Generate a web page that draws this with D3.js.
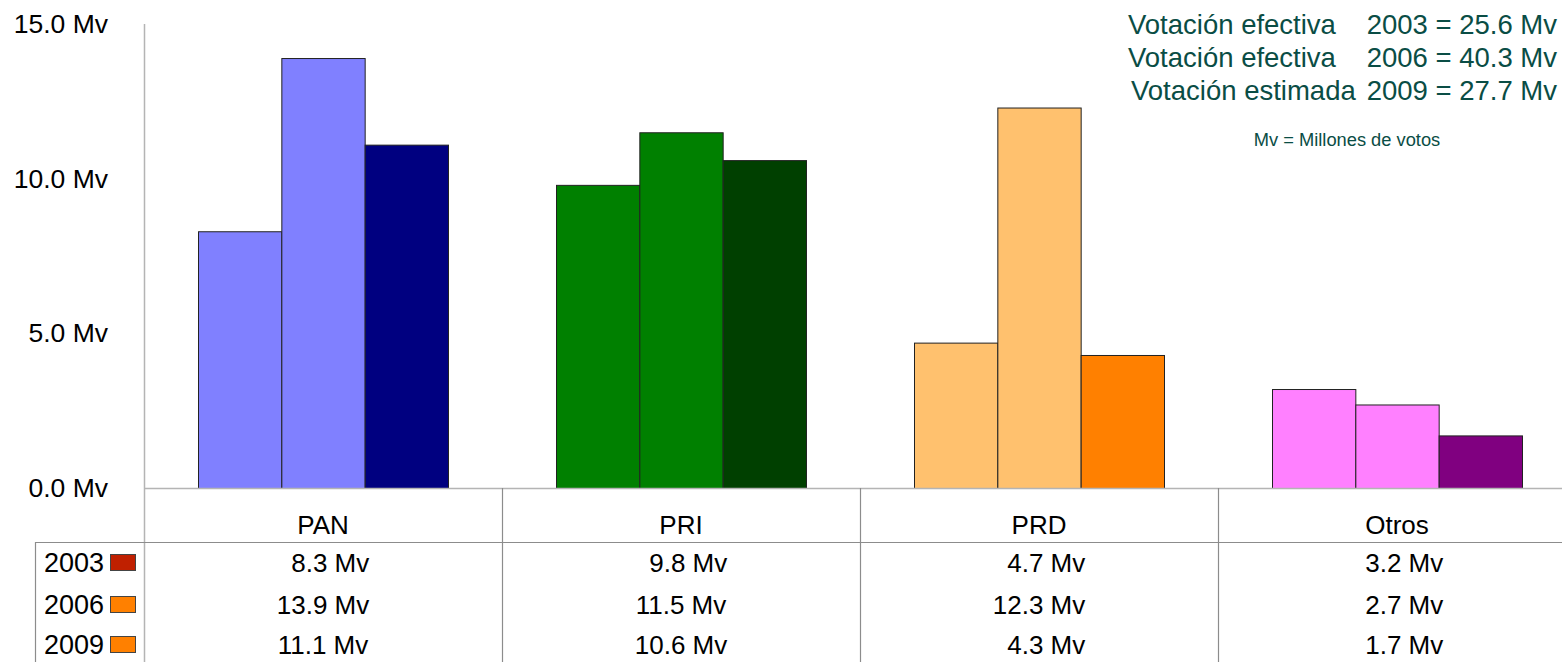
<!DOCTYPE html>
<html><head><meta charset="utf-8">
<script src="https://cdn.jsdelivr.net/npm/d3@7"></script>
<style>
html,body{margin:0;padding:0;background:#fff;}
svg{display:block;font-family:"Liberation Sans",Arial,sans-serif;}
</style></head>
<body><svg id="c" width="1562" height="662"></svg>
<script>
const categories = ["PAN","PRI","PRD","Otros"];
const years = ["2003","2006","2009"];
const values2003 = [8.3, 9.8, 4.7, 3.2];
const values2006 = [13.9, 11.5, 12.3, 2.7];
const values2009 = [11.1, 10.6, 4.3, 1.7];
const yTicks = [0, 5, 10, 15];
const barColors = [
  ["#8080FF","#8080FF","#000080"],
  ["#008000","#008000","#004000"],
  ["#FFC16E","#FFC16E","#FF8000"],
  ["#FF80FF","#FF80FF","#800080"]
];
const legendColors = ["#C02000","#FF8000","#FF8000"];
const summaryLabels = ["Votación efectiva","Votación efectiva","Votación estimada"];
const summaryValues = ["2003 = 25.6 Mv","2006 = 40.3 Mv","2009 = 27.7 Mv"];
const noteText = "Mv = Millones de votos";

const series = [values2003, values2006, values2009];
const svg = d3.select("#c");
const W = 1562, H = 662;
const x0Left = 144, yTop = 24, yBase = 488;
const y = d3.scaleLinear().domain([0,15]).range([yBase, yTop]);
const x0 = d3.scaleBand().domain(categories).range([x0Left, x0Left + 4*358]).padding(0);
const x1 = d3.scaleBand().domain(years).range([54, 304]).padding(0);
const fmt = v => (v < 10 ? "\u2007" : "") + v.toFixed(1) + " Mv";
const FS = 26;

// y axis line
svg.append("line").attr("x1",x0Left+0.5).attr("x2",x0Left+0.5).attr("y1",yTop).attr("y2",H)
  .attr("stroke","#b4b4b4").attr("stroke-width",1.5);
// y tick labels
svg.append("g").selectAll("text").data(yTicks).join("text")
  .attr("x",108).attr("y",d=>y(d)+9).attr("text-anchor","end")
  .attr("font-size",26.5).attr("fill","#000").text(d=>d.toFixed(1)+" Mv");

// bars
const g = svg.append("g");
categories.forEach((c,ci)=>{
  years.forEach((yr,si)=>{
    const v = series[si][ci];
    g.append("rect")
      .attr("x", x0(c)+x1(yr)+0.5)
      .attr("y", y(v)+0.5)
      .attr("width", x1.bandwidth())
      .attr("height", y(0)-y(v))
      .attr("fill", barColors[ci][si])
      .attr("stroke","#222").attr("stroke-width",1);
  });
});

// x axis line
svg.append("line").attr("x1",x0Left).attr("x2",W).attr("y1",yBase+0.5).attr("y2",yBase+0.5)
  .attr("stroke","#b4b4b4").attr("stroke-width",1.5);

// table lines
const tl = svg.append("g").attr("stroke","#8c8c8c").attr("stroke-width",1.2);
tl.append("line").attr("x1",35).attr("x2",W).attr("y1",542.5).attr("y2",542.5);
tl.append("line").attr("x1",35.5).attr("x2",35.5).attr("y1",542).attr("y2",H);
categories.slice(1).forEach(c=>{
  tl.append("line").attr("x1",x0(c)+0.5).attr("x2",x0(c)+0.5).attr("y1",yBase).attr("y2",H);
});

// category labels
svg.append("g").selectAll("text").data(categories).join("text")
  .attr("x",c=>x0(c)+x0.bandwidth()/2).attr("y",534).attr("text-anchor","middle")
  .attr("font-size",FS).attr("fill","#000").text(c=>c);

// table rows
const rowY = [572, 614, 654];
years.forEach((yr,si)=>{
  svg.append("text").attr("x",104).attr("y",rowY[si]).attr("text-anchor","end")
    .attr("font-size",27).attr("fill","#000").text(yr);
  svg.append("rect").attr("x",110.5).attr("y",rowY[si]-17.5).attr("width",25).attr("height",16)
    .attr("fill",legendColors[si]).attr("stroke","#444").attr("stroke-width",1);
  svg.append("g").selectAll("text").data(categories).join("text")
    .attr("x",c=>x0(c)+x0.bandwidth()/2).attr("y",rowY[si]).attr("text-anchor","middle")
    .attr("font-size",FS).attr("fill","#000").attr("xml:space","preserve")
    .text((c,ci)=>fmt(series[si][ci]));
});

// summary box text
const teal = "#0A4D45";
const sumY = [34, 67, 100];
const sumX = [1128, 1128, 1131];
summaryLabels.forEach((t,i)=>{
  svg.append("text").attr("x",sumX[i]).attr("y",sumY[i]).attr("font-size",27.5).attr("fill",teal).text(t);
  svg.append("text").attr("x",1557).attr("y",sumY[i]).attr("text-anchor","end").attr("font-size",27.5).attr("fill",teal).text(summaryValues[i]);
});
svg.append("text").attr("x",1347).attr("y",146).attr("text-anchor","middle")
  .attr("font-size",18.3).attr("fill",teal).text(noteText);
</script></body></html>
